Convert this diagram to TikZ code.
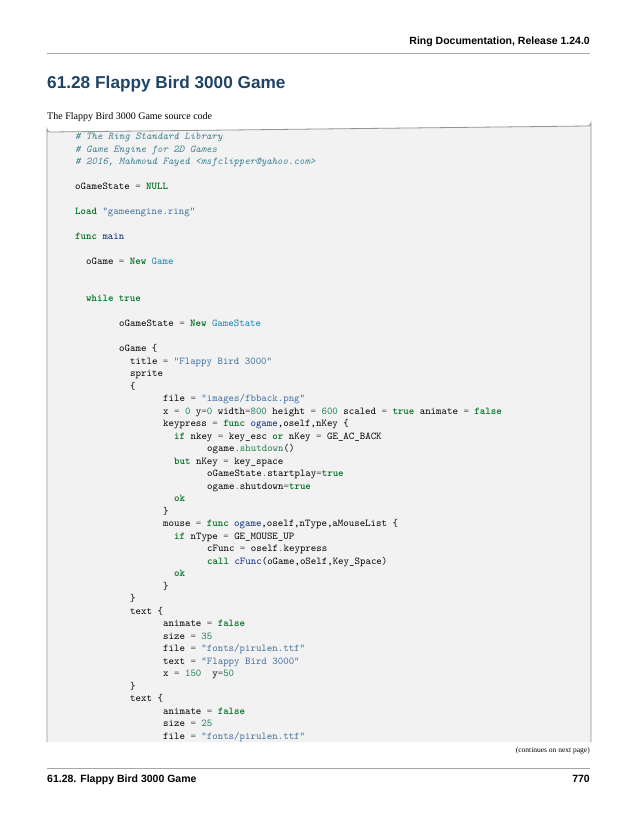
\documentclass[tikz,border=0pt]{standalone}
\usepackage{fontspec}
\setmainfont{Liberation Serif}
\newfontfamily\hdfont{Liberation Sans}
\definecolor{kwc}{HTML}{007020}
\definecolor{stc}{HTML}{4070A0}
\definecolor{nmc}{HTML}{208050}
\definecolor{opc}{HTML}{666666}
\definecolor{fnc}{HTML}{06287E}
\definecolor{clc}{HTML}{0E84B5}
\definecolor{cmc}{HTML}{408090}
\definecolor{ttlc}{HTML}{1F4466}
\definecolor{boxbg}{HTML}{F2F2F2}
\newcommand\kw[1]{\textcolor{kwc}{\bfseries #1}}
\newcommand\st[1]{\textcolor{stc}{#1}}
\newcommand\nm[1]{\textcolor{nmc}{#1}}
\newcommand\op{\textcolor{opc}{=}}
\newcommand\dt{\textcolor{opc}{.}}
\newcommand\fn[1]{\textcolor{fnc}{#1}}
\newcommand\cls[1]{\textcolor{clc}{#1}}
\newcommand\cm[1]{\textcolor{cmc}{\itshape #1}}
\newcommand\cl[3]{\node[codeln] (c#1) at ({75+5.5*#2},{#1+1.5}) {#3};}
\begin{document}
\begin{tikzpicture}[x=1pt,y=-1pt,
  codeln/.style={anchor=base west,inner sep=0pt,font=\fontsize{10.4}{12}\ttfamily},
  hd/.style={inner sep=0pt,font=\hdfont\bfseries}]
\useasboundingbox (0,0) rectangle (638,825);
\fill[white] (0,0) rectangle (638,825);
% header
\node[hd,anchor=base east,font=\hdfont\bfseries\fontsize{10.5}{12}\selectfont] (hdr) at (590,44) {Ring Documentation, Release 1.24.0};
\draw[gray!70,line width=0.8] (47,53) -- (590,53);
\node[hd,anchor=base west,text=ttlc,font=\hdfont\bfseries\fontsize{17.2}{19}\selectfont] (ttl) at (47,88) {61.28\hspace{5pt}Flappy Bird 3000 Game};
\node[anchor=base west,inner sep=0pt,font=\fontsize{10}{12}\selectfont] (intro) at (47,119) {The Flappy Bird 3000 Game source code};
% code box
\fill[boxbg] (47,742) -- (47,129) arc[start angle=180,end angle=90,radius=3] -- (588,126) arc[start angle=90,end angle=0,radius=3] -- (591,742) -- cycle;
\draw[gray!85,line width=0.8] (47,742) -- (47,129) arc[start angle=180,end angle=90,radius=3] -- (588,126) arc[start angle=90,end angle=0,radius=3] -- (591,742);
\cl{138}{0}{\cm{\# The Ring Standard Library}}
\cl{150.5}{0}{\cm{\# Game Engine for 2D Games}}
\cl{163}{0}{\cm{\# 2016, Mahmoud Fayed <msfclipper@yahoo.com>}}
\cl{188}{0}{oGameState \op{} \kw{NULL}}
\cl{213}{0}{\kw{Load} \st{"gameengine.ring"}}
\cl{238}{0}{\kw{func} \fn{main}}
\cl{263}{2}{oGame \op{} \kw{New} \cls{Game}}
\cl{300}{2}{\kw{while} \kw{true}}
\cl{325}{8}{oGameState \op{} \kw{New} \cls{GameState}}
\cl{350}{8}{oGame \{}
\cl{362.5}{10}{title \op{} \st{"Flappy Bird 3000"}}
\cl{375}{10}{sprite}
\cl{387.5}{10}{\{}
\cl{400}{16}{file \op{} \st{"images/fbback.png"}}
\cl{412.5}{16}{x \op{} \nm{0} y\op\nm{0} width\op\nm{800} height \op{} \nm{600} scaled \op{} \kw{true} animate \op{} \kw{false}}
\cl{425}{16}{keypress \op{} \kw{func} \fn{ogame},oself,nKey \{}
\cl{437.5}{18}{\kw{if} nkey \op{} key\_esc \kw{or} nKey \op{} GE\_AC\_BACK}
\cl{450}{24}{ogame\dt\textcolor{nmc}{shutdown}()}
\cl{462.5}{18}{\kw{but} nKey \op{} key\_space}
\cl{475}{24}{oGameState\dt startplay\op\kw{true}}
\cl{487.5}{24}{ogame\dt shutdown\op\kw{true}}
\cl{500}{18}{\kw{ok}}
\cl{512.5}{16}{\}}
\cl{525}{16}{mouse \op{} \kw{func} \fn{ogame},oself,nType,aMouseList \{}
\cl{537.5}{18}{\kw{if} nType \op{} GE\_MOUSE\_UP}
\cl{550}{24}{cFunc \op{} oself\dt keypress}
\cl{562.5}{24}{\kw{call} \fn{cFunc}(oGame,oSelf,Key\_Space)}
\cl{575}{18}{\kw{ok}}
\cl{587.5}{16}{\}}
\cl{600}{10}{\}}
\cl{612.5}{10}{text \{}
\cl{625}{16}{animate \op{} \kw{false}}
\cl{637.5}{16}{size \op{} \nm{35}}
\cl{650}{16}{file \op{} \st{"fonts/pirulen.ttf"}}
\cl{662.5}{16}{text \op{} \st{"Flappy Bird 3000"}}
\cl{675}{16}{x \op{} \nm{150}\ \ y\op\nm{50}}
\cl{687.5}{10}{\}}
\cl{700}{10}{text \{}
\cl{712.5}{16}{animate \op{} \kw{false}}
\cl{725}{16}{size \op{} \nm{25}}
\cl{737.5}{16}{file \op{} \st{"fonts/pirulen.ttf"}}
\node[anchor=base east,inner sep=0pt,font=\fontsize{7.5}{9}\selectfont] (cont) at (590,752) {(continues on next page)};
% footer
\draw[gray!70,line width=0.8] (47,768) -- (590,768);
\node[hd,anchor=base west,font=\hdfont\bfseries\fontsize{10.5}{12}\selectfont] (ftl) at (47,782) {61.28.\hspace{4pt}Flappy Bird 3000 Game};
\node[hd,anchor=base east,font=\hdfont\bfseries\fontsize{10.5}{12}\selectfont] (ftr) at (590,782) {770};
\end{tikzpicture}
\end{document}
